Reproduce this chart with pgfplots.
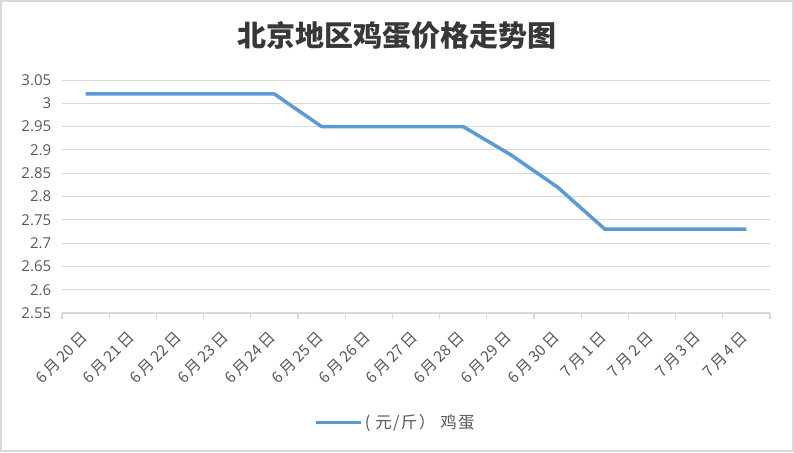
\documentclass[border=0pt]{standalone}
\usepackage{fontspec}
\setmainfont{Noto Sans CJK SC}
\newfontfamily\numfont{Open Sans}
\usepackage{pgfplots}
\pgfplotsset{compat=1.18}
\definecolor{lineblue}{HTML}{5B9BD5}
\definecolor{txtgray}{HTML}{595959}
\definecolor{gridgray}{HTML}{D9D9D9}
\newcommand\md[2]{#1\kern2.5pt 月\kern2.5pt #2\kern2.5pt 日}
\begin{document}
\begin{tikzpicture}
\path[use as bounding box] (0,0) rectangle (794pt,452pt);
\fill[white] (0,0) rectangle (794pt,452pt);
\draw[gridgray, line width=2pt] (1pt,1pt) rectangle (793pt,451pt);
\node[font=\fontsize{29}{32}\selectfont\bfseries, text=black!78] at (397pt,416pt) {北京地区鸡蛋价格走势图};
\begin{axis}[
  at={(62pt,139pt)}, anchor=south west,
  scale only axis, width=708pt, height=233pt,
  xmin=-0.5, xmax=14.5, ymin=2.55, ymax=3.05,
  axis x line*=bottom, axis y line*=left,
  y axis line style={draw=none},
  x axis line style={gridgray, line width=1.2pt},
  xtick={0,...,14},
  xticklabels={\md{6}{20},\md{6}{21},\md{6}{22},\md{6}{23},\md{6}{24},\md{6}{25},\md{6}{26},\md{6}{27},\md{6}{28},\md{6}{29},\md{6}{30},\md{7}{1},\md{7}{2},\md{7}{3},\md{7}{4}},
  major x tick style={draw=none},
  minor xtick={-0.5,0.5,...,14.5},
  minor x tick style={gridgray, line width=1.2pt},
  minor tick length=6pt,
  tick align=outside,
  xticklabel style={xshift=1pt, yshift=-15pt, rotate=45, anchor=east, font=\fontsize{15.5}{17}\selectfont, text=txtgray},
  ytick={2.55,2.6,2.65,2.7,2.75,2.8,2.85,2.9,2.95,3,3.05},
  yticklabels={2.55,2.6,2.65,2.7,2.75,2.8,2.85,2.9,2.95,3,3.05},
  ytick style={draw=none},
  yticklabel style={font=\fontsize{15}{17}\selectfont\numfont, text=txtgray, xshift=-3pt},
  ymajorgrids, grid style={gridgray, line width=1pt},
  legend style={at={(axis description cs:0.471,-0.4700)}, anchor=center, draw=none, fill=none, font=\fontsize{16.5}{18}\selectfont\addfontfeatures{LetterSpace=8}, text=txtgray},
  legend image code/.code={\draw[#1] (0pt,0pt) -- (45pt,0pt);},
  clip=false,
]
\addplot[lineblue, line width=3.5pt, line join=round] coordinates {
(0,3.02) (1,3.02) (2,3.02) (3,3.02) (4,3.02)
(5,2.95) (6,2.95) (7,2.95) (8,2.95)
(9,2.89) (10,2.82)
(11,2.73) (12,2.73) (13,2.73) (14,2.73)
};
\addlegendentry{( 元/斤） 鸡蛋}
\end{axis}
\end{tikzpicture}
\end{document}
